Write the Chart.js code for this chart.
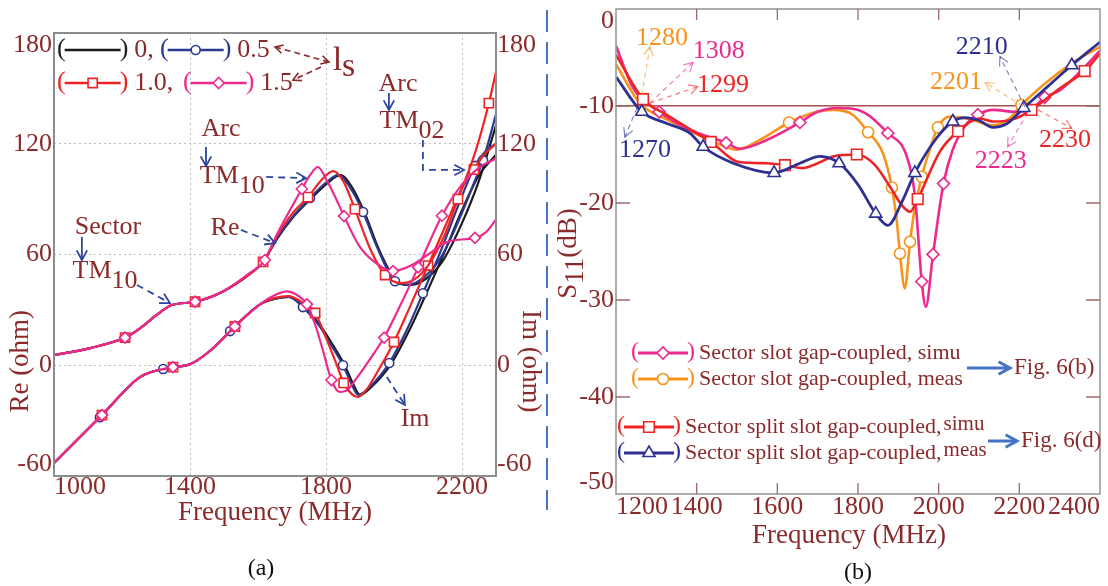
<!DOCTYPE html>
<html>
<head>
<meta charset="utf-8">
<title>Sector slot antenna: input impedance and S11</title>
<script src="https://cdn.jsdelivr.net/npm/chart.js@4.4.1/dist/chart.umd.min.js"></script>
<style>
  html, body { margin: 0; padding: 0; background: #fff; }
  body { position: relative; width: 1108px; height: 586px; overflow: hidden; font-family: "Liberation Serif", serif; }
  #chart-a { position: absolute; left: 0; top: 0; }
  #chart-b { position: absolute; left: 556px; top: 0; }
  .divider { position: absolute; left: 546px; top: 10px; width: 2px; height: 500px;
             background: repeating-linear-gradient(to bottom, #4a74c9 0 22px, transparent 22px 32px); }
  .caption { position: absolute; font-size: 24px; color: #111; transform: translate(-50%, -50%); }
</style>
</head>
<body>
<canvas id="chart-a" width="547" height="586"></canvas>
<div class="divider"></div>
<canvas id="chart-b" width="552" height="586"></canvas>
<div class="caption" style="left:261px; top:567px">(a)</div>
<div class="caption" style="left:858px; top:571px">(b)</div>
<script>
// =============================================
// Panel (a) data — input impedance, four ls values   [MHz, ohm]
// =============================================
const freqTicksA  = [1000, 1400, 1800, 2200, 2300];
const freqLabelsA = ['1000', '1400', '1800', '2200', ''];
const ohmTicks    = [-60, 0, 60, 120, 180];
const ohmLabels   = ['-60', '0', '60', '120', '180'];
const lsValues    = ['0', '0.5', '1.0', '1.5'];

const reLs0 = [[1000,5.5],[1107,9.3],[1209,15],[1253,20],[1300,27],[1345,32.5],[1415,34.4],[1497,40],[1576,49.5],[1615,56],[1656,68.5],[1700,79.5],[1760,91],[1800,98],[1842,103],[1878,96],[1915,82],[1955,63],[2008,45.5],[2045,43.5],[2095,47],[2145,57],[2200,77],[2250,100],[2300,130]];
const imLs0 = [[1000,-53],[1141,-27],[1253,-6.4],[1350,-1],[1400,0.5],[1460,8],[1532,21],[1606,33],[1650,36],[1692,37],[1736,31.5],[1785,21],[1820,11],[1855,0],[1877,-9],[1900,-16],[1935,-11.5],[1993,1.2],[2048,20],[2093,38],[2150,62],[2200,84],[2250,103],[2300,114]];

const reLs05 = [[1000,5.5],[1107,9.3],[1209,15],[1253,20],[1300,27],[1345,32.5],[1415,34.4],[1497,40],[1576,49.5],[1615,56],[1656,69],[1700,80],[1753,90.6],[1800,99],[1835,103],[1870,96.5],[1909,83],[1950,64],[2003,45.5],[2040,43.5],[2090,48],[2140,59],[2194,80],[2240,101],[2262,111],[2300,136]];
const imLs05 = [[1000,-53],[1135,-28.2],[1253,-6.4],[1321,-2],[1400,0.5],[1460,8],[1518,18.5],[1606,33],[1650,36],[1690,37],[1732,31.5],[1780,21.5],[1815,11],[1850,0],[1872,-9],[1895,-16],[1930,-11.5],[1986,1.2],[2040,20],[2085,39],[2140,63],[2190,87],[2238,108],[2270,116],[2300,120]];
const markReLs05 = [1209, 1415, 1753, 1909, 2003, 2262];
const markImLs05 = [1135, 1321, 1518, 1732, 1850, 1986, 2085, 2238];

const reLs10 = [[1000,5.5],[1107,9.3],[1209,15],[1253,20],[1300,27],[1345,32.5],[1415,34.4],[1497,40],[1576,49.5],[1615,56],[1656,70],[1700,82],[1747,91.1],[1790,101],[1821,105.2],[1850,100],[1885,84.6],[1930,63],[1974,48.9],[2020,44.5],[2060,46.5],[2100,54],[2150,71],[2188,90],[2240,116],[2279,142],[2300,159]];
const imLs10 = [[1000,-53],[1141,-27],[1253,-6.4],[1350,-1],[1400,0.5],[1460,8],[1532,21],[1606,33],[1650,36.5],[1690,37.5],[1730,34],[1768,28.3],[1800,15],[1830,1],[1852,-9.6],[1875,-15.5],[1894,-17.2],[1920,-13],[1950,-4],[2000,12.6],[2050,33],[2100,54],[2150,75],[2200,96],[2235,106],[2265,114],[2300,120]];
const markReLs10 = [1209, 1415, 1615, 1747, 1885, 1974, 2188, 2279];
const markImLs10 = [1141, 1350, 1532, 1768, 1852, 2000, 2100, 2235];

const reLs15 = [[1000,5.5],[1107,9.3],[1209,15],[1253,20],[1300,27],[1345,32.5],[1415,34.4],[1497,40],[1576,50],[1620,57],[1656,71],[1700,86],[1729,95.5],[1755,103.5],[1776,107.4],[1800,101],[1825,92],[1853,80.8],[1900,64],[1968,52.7],[1997,51],[2050,54],[2100,60],[2160,67],[2238,69],[2270,72],[2300,79]];
const imLs15 = [[1000,-53],[1141,-27],[1253,-6.4],[1350,-1],[1400,0.5],[1460,8],[1532,21],[1606,33],[1650,38],[1685,40],[1715,38],[1744,33],[1770,21],[1791,8],[1816,-8],[1840,-14.5],[1862,-13.5],[1890,-7],[1930,3.5],[1971,15],[2020,33],[2071,53],[2141,81],[2200,98],[2250,107],[2300,112]];
const markReLs15 = [1209, 1415, 1620, 1729, 1853, 1997, 2238];
const markImLs15 = [1141, 1350, 1532, 1744, 1816, 1971, 2071, 2141];

// =============================================
// Panel (b) data — S11 (dB)   [MHz, dB]
// =============================================
const freqTicksB  = [1200, 1400, 1600, 1800, 2000, 2200, 2400];
const freqLabelsB = ['1200', '1400', '1600', '1800', '2000', '2200', '2400'];
const s11Ticks    = [-50, -40, -30, -20, -10, 0];
const s11Labels   = ['-50', '-40', '-30', '-20', '-10', '0'];
const namesB = ['Sector slot gap-coupled, simu', 'Sector slot gap-coupled, meas',
                'Sector split slot gap-coupled,simu', 'Sector split slot gap-coupled,meas'];
const figRefs = ['Fig. 6(b)', 'Fig. 6(d)'];

const s11SlotSimu = [[1200,-3.8],[1242,-8.1],[1307,-10.6],[1380,-12.4],[1473,-13.8],[1508,-14.4],[1574,-13.5],[1656,-11.7],[1700,-10.6],[1750,-10.2],[1817,-10.7],[1874,-12.8],[1921,-15.2],[1941,-19.2],[1958,-28.1],[1968,-30.7],[1986,-25.3],[2012,-18.0],[2035,-14.5],[2070,-11.8],[2097,-10.9],[2135,-10.4],[2190,-10.6],[2223,-10.5],[2263,-9.1],[2300,-8.4],[2350,-6.5],[2400,-4.3]];
const markSlotSimu = [1307, 1473, 1656, 1874, 1958, 1986, 2012, 2097, 2263];
const s11SlotMeas = [[1200,-5.7],[1259,-9.7],[1326,-11.4],[1433,-13.5],[1499,-14.5],[1557,-13.5],[1629,-11.7],[1698,-10.6],[1738,-10.4],[1787,-10.9],[1825,-12.7],[1862,-14.9],[1884,-18.4],[1896,-21.8],[1904,-25.2],[1916,-28.8],[1929,-24.0],[1939,-21.0],[1958,-17.3],[1978,-14.5],[1998,-12.2],[2028,-11.1],[2080,-11.4],[2135,-12.0],[2175,-11.3],[2205,-9.9],[2260,-7.8],[2330,-5.6],[2400,-3.9]];
const markSlotMeas = [1629, 1825, 1884, 1904, 1929, 1958, 1998, 2205];
const s11SplitSimu = [[1200,-4.7],[1267,-9.3],[1326,-10.9],[1380,-12.3],[1435,-13.7],[1507,-15.8],[1574,-15.9],[1619,-16.1],[1664,-16.4],[1700,-15.9],[1738,-15.2],[1797,-15.0],[1840,-16],[1879,-18.3],[1910,-20.3],[1929,-20.9],[1948,-19.6],[2003,-14.7],[2048,-12.6],[2102,-11.3],[2135,-11.6],[2190,-11.3],[2230,-10.4],[2300,-8.2],[2362,-6.4],[2400,-4.6]];
const markSplitSimu = [1267, 1435, 1619, 1797, 1948, 2048, 2230, 2362];
const s11SplitMeas = [[1200,-7.0],[1264,-10.6],[1326,-11.8],[1383,-12.8],[1416,-14.2],[1491,-15.9],[1592,-16.9],[1656,-15.9],[1706,-15.2],[1753,-15.9],[1800,-18.1],[1844,-21.1],[1874,-22.3],[1911,-19.7],[1941,-16.9],[1995,-13.3],[2035,-11.6],[2065,-11.2],[2100,-11.5],[2134,-12.2],[2170,-11.8],[2211,-10.2],[2270,-8.0],[2330,-5.8],[2400,-3.4]];
const markSplitMeas = [1264, 1416, 1592, 1753, 1844, 1941, 2035, 2211, 2330];

// =============================================
// Styling
// =============================================
const TEXT   = '#8b2a2a';
const SERIF  = '"Liberation Serif", "Times New Roman", serif';
const BLACK  = '#1c1c1c';
const NAVY   = '#2b3990';
const RED    = '#ee2424';
const PINK   = '#ec2a8e';
const ORANGE = '#f7941d';
const BLUE_B = '#2e3192';
const ARROW  = '#2b45a0';

const font = (size) => `${size}px ${SERIF}`;

function series(label, pts, marks, color, style, r, order, axis, width) {
  return {
    label, order,
    data: pts.map(([x, y]) => ({ x, y })),
    yAxisID: axis,
    borderColor: color,
    borderWidth: width,
    cubicInterpolationMode: 'monotone',
    pointStyle: style,
    pointRadius: (c) => (c.raw && marks.includes(c.raw.x)) ? r : 0,
    pointHoverRadius: 0,
    pointBorderColor: color,
    pointBackgroundColor: '#fff',
    pointBorderWidth: 1.6,
    mk: style, mr: r
  };
}

// =============================================
// Drawing helpers
// =============================================
function markerPath(ctx, style, x, y, r) {
  ctx.beginPath();
  if (style === 'circle') ctx.arc(x, y, r, 0, Math.PI * 2);
  else if (style === 'rect') { const s = r * Math.SQRT1_2; ctx.rect(x - s, y - s, 2 * s, 2 * s); }
  else if (style === 'rectRot') { ctx.moveTo(x - r, y); ctx.lineTo(x, y - r); ctx.lineTo(x + r, y); ctx.lineTo(x, y + r); ctx.closePath(); }
  else if (style === 'triangle') {
    const a = 2 * Math.PI / 3;
    ctx.moveTo(x, y - r);
    ctx.lineTo(x + Math.sin(a) * r, y - Math.cos(a) * r);
    ctx.lineTo(x + Math.sin(2 * a) * r, y - Math.cos(2 * a) * r);
    ctx.closePath();
  }
}

function arrowPath(ctx, pts, opt) {
  ctx.save();
  ctx.strokeStyle = opt.color;
  ctx.lineWidth = opt.width || 1.6;
  ctx.globalAlpha = opt.alpha || 1;
  ctx.setLineDash(opt.dash || []);
  ctx.beginPath();
  pts.forEach(([x, y], i) => i ? ctx.lineTo(x, y) : ctx.moveTo(x, y));
  ctx.stroke();
  ctx.setLineDash([]);
  const head = (p, q) => {
    const a = Math.atan2(q[1] - p[1], q[0] - p[0]), s = opt.head || 10;
    ctx.beginPath();
    ctx.moveTo(q[0] - s * Math.cos(a - 0.5), q[1] - s * Math.sin(a - 0.5));
    ctx.lineTo(q[0], q[1]);
    ctx.lineTo(q[0] - s * Math.cos(a + 0.5), q[1] - s * Math.sin(a + 0.5));
    ctx.stroke();
  };
  const n = pts.length;
  head(pts[n - 2], pts[n - 1]);
  if (opt.both) head(pts[1], pts[0]);
  ctx.restore();
}

function subText(ctx, main, sub, cx, cy, size, color, drop) {
  ctx.save();
  ctx.font = font(size);
  ctx.fillStyle = color;
  ctx.textAlign = 'left';
  ctx.textBaseline = 'middle';
  const w1 = ctx.measureText(main).width, w2 = ctx.measureText(sub).width;
  const x0 = cx - (w1 + w2) / 2;
  ctx.fillText(main, x0, cy);
  ctx.fillText(sub, x0 + w1, cy + drop);
  ctx.restore();
}

function plainText(ctx, text, x, y, size, color, align, rot) {
  ctx.save();
  ctx.translate(x, y);
  if (rot) ctx.rotate(rot);
  ctx.font = font(size);
  ctx.fillStyle = color;
  ctx.textAlign = align || 'center';
  ctx.textBaseline = 'middle';
  ctx.fillText(text, 0, 0);
  ctx.restore();
}

// y tick labels kept inside the frame, like the original
function yLabels(chart, id, values, labels, side) {
  const s = chart.scales[id], a = chart.chartArea, ctx = chart.ctx;
  ctx.save();
  ctx.font = font(26);
  ctx.fillStyle = TEXT;
  ctx.textBaseline = 'middle';
  ctx.textAlign = side === 'left' ? 'right' : 'left';
  const x = side === 'left' ? a.left - 2 : a.right + 1;
  values.forEach((v, i) => {
    const y = Math.min(Math.max(s.getPixelForValue(v), a.top + 12), a.bottom - 12);
    ctx.fillText(labels[i], x, y);
  });
  ctx.restore();
}

// "( —o— )" legend swatch, returns the x where the label goes
function swatch(ctx, ds, x, y, len, parenSize) {
  ctx.save();
  ctx.font = font(parenSize);
  ctx.textAlign = 'left';
  ctx.textBaseline = 'middle';
  ctx.fillStyle = ds.borderColor;
  const pw = ctx.measureText('(').width;
  ctx.fillText('(', x, y - 1);
  const x1 = x + pw - 1, x2 = x1 + len;
  ctx.strokeStyle = ds.borderColor;
  ctx.lineWidth = ds.borderWidth + 0.4;
  ctx.beginPath(); ctx.moveTo(x1, y); ctx.lineTo(x2, y); ctx.stroke();
  if (ds.mr > 0) {
    markerPath(ctx, ds.mk, (x1 + x2) / 2, y, ds.mr);
    ctx.fillStyle = '#fff'; ctx.fill();
    ctx.lineWidth = 1.6; ctx.stroke();
  }
  ctx.fillStyle = ds.borderColor;
  ctx.fillText(')', x2 - 1, y - 1);
  ctx.restore();
  return x2 - 1 + pw;
}

function frame(chart, color, width) {
  const { ctx, chartArea: a } = chart;
  ctx.save();
  ctx.strokeStyle = color;
  ctx.lineWidth = width;
  ctx.strokeRect(a.left, a.top, a.right - a.left, a.bottom - a.top);
  ctx.restore();
}

// =============================================
// Panel (a) annotations (data units)
// =============================================
const notesA = [
  { text: 'Arc',    f: 1491, v: 128 },
  { text: 'Sector', f: 1159, v: 75 },
  { text: 'Re',     f: 1503, v: 74.5 },
  { text: 'Arc',    f: 2012, v: 152.5 },
  { text: 'Im',     f: 2062, v: -29 }
];
const modesA = [
  { main: 'TM', sub: '10', f: 1524, v: 102.5 },
  { main: 'TM', sub: '10', f: 1150, v: 51 },
  { main: 'TM', sub: '02', f: 2053, v: 132 }
];
const arrowsA = [
  { pts: [[1447, 118.2], [1447, 107.9]], dash: null },
  { pts: [[1624, 102], [1741, 101.4]], dash: [7, 5] },
  { pts: [[1082, 69.5], [1082, 57]], dash: null },
  { pts: [[1244, 43.5], [1341, 33.7]], dash: [7, 5] },
  { pts: [[1550, 73.3], [1650, 66.2]], dash: [7, 5] },
  { pts: [[1985, 147.5], [1985, 138.3]], dash: null },
  { pts: [[2085, 122], [2085, 105.8], [2206, 105.8]], dash: [7, 5] },
  { pts: [[1979, -6.4], [2032, -21.5]], dash: [7, 5] }
];
const legendA = [
  { ds: 0, row: 0, x: 3,   tail: ',' },
  { ds: 1, row: 0, x: 106, tail: '' },
  { ds: 2, row: 1, x: 3,   tail: ',' },
  { ds: 3, row: 1, x: 129, tail: '' }
];

const decorA = {
  id: 'decorA',
  afterDraw(chart) {
    const { ctx, chartArea: a, scales } = chart;
    const X = (f) => scales.x.getPixelForValue(f);
    const Y = (v) => scales.y.getPixelForValue(v);

    frame(chart, '#8c8c8c', 2);
    yLabels(chart, 'y', ohmTicks, ohmLabels, 'left');
    yLabels(chart, 'y2', ohmTicks, ohmLabels, 'right');

    plainText(ctx, 'Re (ohm)', a.left - 33, Y(0) - 4, 27, TEXT, 'center', -Math.PI / 2);
    plainText(ctx, 'Im (ohm)', a.right + 34, Y(0) - 4, 27, TEXT, 'center', Math.PI / 2);
    plainText(ctx, 'Frequency (MHz)', (a.left + a.right) / 2, a.bottom + 37, 27, TEXT);

    notesA.forEach(n => plainText(ctx, n.text, X(n.f), Y(n.v), 26, TEXT));
    modesA.forEach(m => subText(ctx, m.main, m.sub, X(m.f), Y(m.v), 26, TEXT, 10));
    arrowsA.forEach(w => arrowPath(ctx, w.pts.map(([f, v]) => [X(f), Y(v)]),
      { color: ARROW, width: 1.8, dash: w.dash, head: 11 }));

    // legend
    legendA.forEach((it, i) => {
      const ds = chart.data.datasets[it.ds];
      const y = a.top + 17 + it.row * 33;
      const tx = swatch(ctx, ds, a.left + it.x, y, 56, 26);
      plainText(ctx, lsValues[i] + it.tail, tx + 6, y, 26, TEXT, 'left');
    });
    subText(ctx, 'l', 's', a.left + 290, a.top + 28, 34, TEXT, 6);
    arrowPath(ctx, [[a.left + 221, a.top + 14], [a.left + 275, a.top + 29]],
      { color: TEXT, width: 1.6, dash: [6, 4], head: 9, both: true });
    arrowPath(ctx, [[a.left + 267, a.top + 34], [a.left + 239, a.top + 47]],
      { color: TEXT, width: 1.6, dash: [6, 4], head: 9 });
  }
};

// =============================================
// Panel (b) annotations
// =============================================
const calloutsB = [
  { text: '1280', color: ORANGE, f: 1314, v: -3.0, from: [1264, -8.9],  to: [1284, -3.9] },
  { text: '1308', color: PINK,   f: 1455, v: -4.3, from: [1284, -9.7],  to: [1391, -5.5] },
  { text: '1299', color: RED,    f: 1465, v: -7.9, from: [1284, -9.7],  to: [1403, -8.0] },
  { text: '1270', color: BLUE_B, f: 1272, v: -14.6, from: [1252, -10.2], to: [1222, -13.2] },
  { text: '2210', color: BLUE_B, f: 2107, v: -3.9, from: [2214, -10.1], to: [2152, -4.9] },
  { text: '2201', color: ORANGE, f: 2043, v: -7.5, from: [2209, -10.0], to: [2115, -7.6] },
  { text: '2223', color: PINK,   f: 2154, v: -15.7, from: [2221, -10.7], to: [2171, -14.2] },
  { text: '2230', color: RED,    f: 2313, v: -13.5, from: [2246, -10.4], to: [2330, -12.3] }
];
const legendB = [
  { ds: 0, x: 15, y: 344, raise: false },
  { ds: 1, x: 15, y: 370, raise: false },
  { ds: 2, x: 1,  y: 418, raise: true },
  { ds: 3, x: 1,  y: 444, raise: true }
];
const figArrows = [
  { text: figRefs[0], x1: 351, x2: 394, y: 359 },
  { text: figRefs[1], x1: 372, x2: 401, y: 432 }
];

const decorB = {
  id: 'decorB',
  afterDraw(chart) {
    const { ctx, chartArea: a, scales } = chart;
    const X = (f) => scales.x.getPixelForValue(f);
    const Y = (v) => scales.y.getPixelForValue(v);

    frame(chart, '#9a9a9a', 1.6);

    // inward tick marks
    ctx.save();
    ctx.strokeStyle = '#a06a6a';
    ctx.lineWidth = 1.3;
    ctx.beginPath();
    freqTicksB.slice(1, -1).forEach(f => {
      const x = X(f);
      ctx.moveTo(x, a.top); ctx.lineTo(x, a.top + 11);
      ctx.moveTo(x, a.bottom); ctx.lineTo(x, a.bottom - 11);
    });
    s11Ticks.slice(1, -1).forEach(v => {
      const y = Y(v);
      ctx.moveTo(a.left, y); ctx.lineTo(a.left + 14, y);
      ctx.moveTo(a.right, y); ctx.lineTo(a.right - 14, y);
    });
    ctx.stroke();
    ctx.restore();

    yLabels(chart, 'y', s11Ticks, s11Labels, 'left');

    // y title  S11(dB)
    ctx.save();
    ctx.translate(a.left - 47, Y(-25) + 2);
    ctx.rotate(-Math.PI / 2);
    ctx.font = font(27);
    ctx.fillStyle = TEXT;
    ctx.textBaseline = 'middle';
    ctx.textAlign = 'left';
    const w1 = ctx.measureText('S').width, w2 = ctx.measureText('11').width, w3 = ctx.measureText('(dB)').width;
    const x0 = -(w1 + w2 + w3) / 2;
    ctx.fillText('S', x0, 0);
    ctx.fillText('11', x0 + w1, 7);
    ctx.fillText('(dB)', x0 + w1 + w2, 0);
    ctx.restore();

    plainText(ctx, 'Frequency (MHz)', (a.left + a.right) / 2 - 9, a.bottom + 42, 27, TEXT);

    calloutsB.forEach(c => {
      arrowPath(ctx, [[X(c.from[0]), Y(c.from[1])], [X(c.to[0]), Y(c.to[1])]],
        { color: c.color, width: 1.2, dash: [5, 4], alpha: 0.6, head: 10 });
      plainText(ctx, c.text, X(c.f), Y(c.v), 26, c.color);
    });

    legendB.forEach((it, i) => {
      const ds = chart.data.datasets[it.ds];
      const y = a.top + it.y;
      const tx = swatch(ctx, ds, a.left + it.x, y, 50, 24) + 4;
      const name = namesB[i];
      if (!it.raise) {
        plainText(ctx, name, tx, y, 22, TEXT, 'left');
      } else {
        const cut = name.indexOf(',') + 1;
        const head = name.slice(0, cut), tail = name.slice(cut);
        plainText(ctx, head, tx, y, 22, TEXT, 'left');
        ctx.save(); ctx.font = font(22);
        const w = ctx.measureText(head).width;
        ctx.restore();
        plainText(ctx, tail, tx + w + 2, y - 3, 21, TEXT, 'left');
      }
    });

    figArrows.forEach(fa => {
      const y = a.top + fa.y;
      arrowPath(ctx, [[a.left + fa.x1, y], [a.left + fa.x2, y]], { color: '#4472c4', width: 3, head: 13 });
      plainText(ctx, fa.text, a.left + fa.x2 + 4, y, 23, TEXT, 'left');
    });
  }
};

// =============================================
// Charts
// =============================================
Chart.defaults.font.family = SERIF;

const datasetsA = [
  series(lsValues[0], reLs0,  [],         BLACK, 'circle',  0,   3, 'y', 2.2),
  series(lsValues[1], reLs05, markReLs05, NAVY,  'circle',  4.5, 2, 'y', 2.2),
  series(lsValues[2], reLs10, markReLs10, RED,   'rect',    6.5, 1, 'y', 2.2),
  series(lsValues[3], reLs15, markReLs15, PINK,  'rectRot', 5.5, 0, 'y', 2.2),
  series(lsValues[0], imLs0,  [],         BLACK, 'circle',  0,   3, 'y2', 2.2),
  series(lsValues[1], imLs05, markImLs05, NAVY,  'circle',  4.5, 2, 'y2', 2.2),
  series(lsValues[2], imLs10, markImLs10, RED,   'rect',    6.5, 1, 'y2', 2.2),
  series(lsValues[3], imLs15, markImLs15, PINK,  'rectRot', 5.5, 0, 'y2', 2.2)
];

new Chart(document.getElementById('chart-a'), {
  type: 'line',
  data: { datasets: datasetsA },
  options: {
    responsive: false,
    animation: false,
    devicePixelRatio: 1,
    layout: { padding: { top: 33, left: 0, right: 0, bottom: 0 } },
    plugins: { legend: { display: false }, tooltip: { enabled: false } },
    scales: {
      x: {
        type: 'linear', min: 1000, max: 2300,
        afterBuildTicks: (s) => { s.ticks = freqTicksA.map(v => ({ value: v })); },
        afterFit: (s) => { s.height = 586 - 476; },
        grid: { color: '#bdbdbd', lineWidth: 1, drawTicks: false },
        border: { display: false, dash: [2, 3] },
        ticks: {
          align: 'inner', autoSkip: false, maxRotation: 0, minRotation: 0, padding: -4,
          color: TEXT, font: { family: SERIF, size: 26 },
          callback: (v, i) => freqLabelsA[i]
        }
      },
      y: {
        type: 'linear', min: -60, max: 180,
        afterBuildTicks: (s) => { s.ticks = ohmTicks.map(v => ({ value: v })); },
        afterFit: (s) => { s.width = 54; },
        grid: { color: '#bdbdbd', lineWidth: 1, drawTicks: false },
        border: { display: false, dash: [2, 3] },
        ticks: { display: false }
      },
      y2: {
        type: 'linear', position: 'right', min: -60, max: 180,
        afterBuildTicks: (s) => { s.ticks = ohmTicks.map(v => ({ value: v })); },
        afterFit: (s) => { s.width = 547 - 496; },
        grid: { display: false, drawTicks: false },
        border: { display: false },
        ticks: { display: false }
      }
    }
  },
  plugins: [decorA]
});

const datasetsB = [
  series(namesB[0], s11SlotSimu,  markSlotSimu,  PINK,   'rectRot',  6,   2, 'y', 2.6),
  series(namesB[1], s11SlotMeas,  markSlotMeas,  ORANGE, 'circle',   5.5, 3, 'y', 2.6),
  series(namesB[2], s11SplitSimu, markSplitSimu, RED,    'rect',     7.5, 1, 'y', 2.6),
  series(namesB[3], s11SplitMeas, markSplitMeas, BLUE_B, 'triangle', 7,   0, 'y', 2.8)
];

new Chart(document.getElementById('chart-b'), {
  type: 'line',
  data: { datasets: datasetsB },
  options: {
    responsive: false,
    animation: false,
    devicePixelRatio: 1,
    layout: { padding: { top: 9, left: 0, right: 8, bottom: 0 } },
    plugins: { legend: { display: false }, tooltip: { enabled: false } },
    scales: {
      x: {
        type: 'linear', min: 1200, max: 2400,
        afterBuildTicks: (s) => { s.ticks = freqTicksB.map(v => ({ value: v })); },
        afterFit: (s) => { s.height = 586 - 494; },
        grid: { display: false, drawTicks: false },
        border: { display: false },
        ticks: {
          align: 'inner', autoSkip: false, maxRotation: 0, minRotation: 0, padding: -2,
          color: TEXT, font: { family: SERIF, size: 26 },
          callback: (v, i) => freqLabelsB[i]
        }
      },
      y: {
        type: 'linear', min: -50, max: 0,
        afterBuildTicks: (s) => { s.ticks = s11Ticks.map(v => ({ value: v })); },
        afterFit: (s) => { s.width = 60; },
        grid: {
          drawTicks: false, lineWidth: 1.5,
          color: (c) => (c.tick && c.tick.value === -10) ? '#a4514f' : 'rgba(0,0,0,0)'
        },
        border: { display: false },
        ticks: { display: false }
      }
    }
  },
  plugins: [decorB]
});
</script>
</body>
</html>
